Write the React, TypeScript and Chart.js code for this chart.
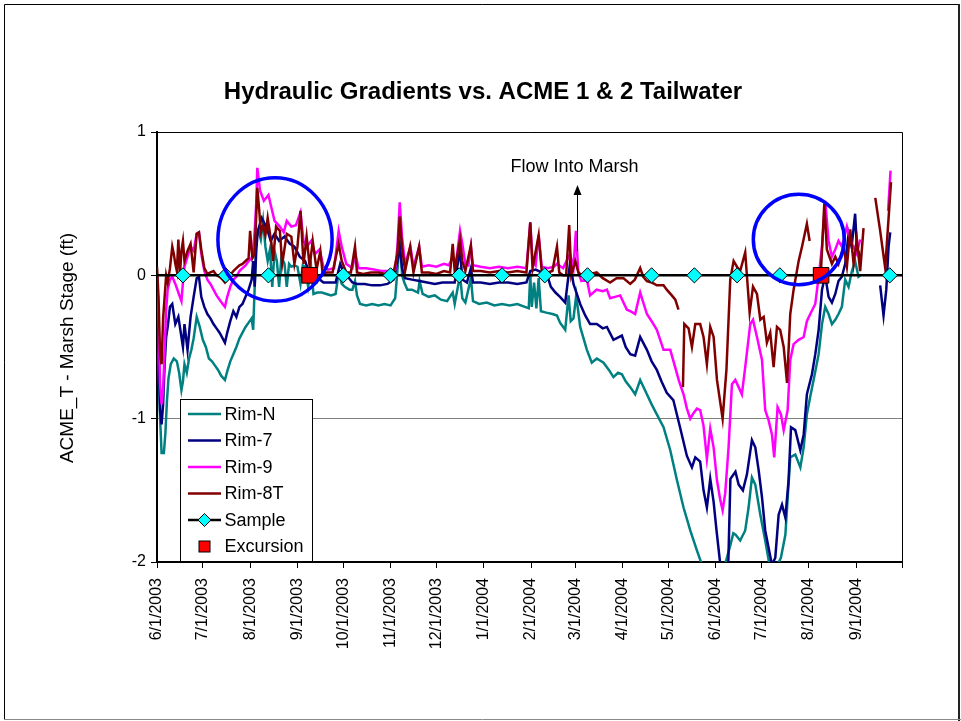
import React, { useEffect, useRef } from 'react';
import { Chart, registerables } from 'chart.js';

Chart.register(...registerables);

const FONT = '"Liberation Sans", Arial, sans-serif';

// x axis: days since 6/1/2003
const monthDays = [0, 30, 61, 92, 122, 153, 183, 214, 245, 274, 305, 335, 366, 396, 427, 458, 488];
const monthLabels = ['6/1/2003', '7/1/2003', '8/1/2003', '9/1/2003', '10/1/2003', '11/1/2003', '12/1/2003', '1/1/2004', '2/1/2004', '3/1/2004', '4/1/2004', '5/1/2004', '6/1/2004', '7/1/2004', '8/1/2004', '9/1/2004', ''];
const yTickValues = [1, 0, -1, -2];

type Pair = [number, number | null];

const rimN: Pair[] = [[0,-0.34],[1,-0.64],[2,-0.99],[3,-1.24],[4.5,-1.24],[5.5,-1.1],[6.5,-0.88],[7.5,-0.72],[9,-0.62],[11,-0.58],[13,-0.6],[14.5,-0.68],[16,-0.8],[17,-0.74],[18,-0.62],[19.5,-0.68],[21,-0.58],[22.5,-0.52],[24,-0.44],[26,-0.29],[28,-0.36],[30,-0.45],[32,-0.5],[34,-0.58],[36,-0.6],[38,-0.63],[40,-0.66],[42,-0.7],[44.5,-0.73],[46,-0.67],[48,-0.6],[50,-0.55],[52,-0.5],[54,-0.44],[56,-0.4],[58,-0.36],[60,-0.33],[62,-0.3],[63,-0.38],[64,-0.08],[65,0.27],[66.5,0.31],[68,0.25],[69.5,0.38],[71,0.2],[72.5,0.1],[74,0.18],[75.5,-0.08],[77,0.17],[78.5,0.1],[80,-0.08],[81.5,0.13],[83.5,0.08],[85,-0.08],[86.5,0.08],[88,0.06],[90,0.07],[92,0.06],[94,-0.06],[95.5,0.07],[97,0.06],[99,-0.08],[101,0.05],[102.5,-0.13],[105,-0.12],[108,-0.12],[111,-0.13],[114,-0.14],[117,-0.13],[119,0.02],[121,-0.06],[123,-0.08],[126,-0.1],[128,-0.1],[129.7,-0.04],[131,-0.14],[133,-0.2],[137,-0.21],[141,-0.2],[145,-0.21],[149,-0.2],[153,-0.21],[156,-0.16],[158,0.1],[159.3,0.31],[160.5,0.0],[162,-0.05],[164,-0.1],[167,-0.1],[171,-0.12],[172,-0.04],[174,-0.13],[178,-0.15],[182,-0.14],[186,-0.17],[190,-0.18],[193.7,-0.12],[195,-0.2],[198.5,0.0],[200,-0.16],[202,-0.19],[205.6,-0.02],[207,-0.18],[211,-0.2],[216,-0.19],[221,-0.21],[226,-0.2],[231,-0.21],[236,-0.2],[241,-0.22],[243.5,-0.23],[244.5,0.0],[245.5,-0.22],[247,-0.05],[248.5,-0.23],[250,-0.02],[251.5,-0.25],[255,-0.26],[259,-0.27],[262,-0.28],[264,-0.33],[267.4,-0.38],[269.6,-0.14],[271,-0.32],[272.8,-0.3],[274.6,-0.14],[277.2,-0.36],[281.6,-0.52],[284.8,-0.61],[288.1,-0.58],[292.5,-0.61],[296,-0.66],[299,-0.71],[302,-0.68],[304.5,-0.69],[307,-0.74],[310,-0.78],[313.2,-0.83],[316.5,-0.73],[320.9,-0.83],[324,-0.9],[327.4,-0.97],[331.8,-1.06],[336.2,-1.22],[340.6,-1.43],[344.9,-1.62],[349.3,-1.78],[353.7,-1.92],[357,-2.02],[362,-2.1],[370,-2.1],[375.6,-1.88],[377.5,-1.8],[379,-1.81],[382,-1.85],[385.3,-1.78],[387.5,-1.62],[389.7,-1.41],[391.9,-1.46],[395.2,-1.67],[398.4,-1.85],[401.7,-2.05],[405,-2.05],[408.7,-1.97],[411.6,-1.81],[414.8,-1.27],[418.1,-1.25],[421.4,-1.34],[423.6,-1.2],[425.7,-0.97],[428,-0.84],[430.1,-0.73],[433.4,-0.55],[435.6,-0.34],[437.7,-0.22],[439.9,-0.27],[442.1,-0.34],[444.3,-0.31],[446.4,-0.27],[448.6,-0.22],[450.8,-0.03],[453,-0.08],[455.2,0.03],[457.3,0.1],[459.5,-0.01],[460.6,0.0]];

const rim7: Pair[] = [[0,-0.14],[1,-0.43],[2,-0.94],[3,-1.04],[4,-0.9],[5,-0.62],[6,-0.43],[7,-0.36],[8.5,-0.22],[10,-0.2],[12,-0.34],[14,-0.29],[16,-0.43],[17,-0.5],[18,-0.34],[20,-0.52],[22,-0.29],[24,-0.15],[26,-0.02],[27.5,-0.01],[29,-0.15],[31,-0.22],[33,-0.27],[35,-0.3],[37,-0.34],[39,-0.37],[41,-0.4],[43,-0.44],[44.5,-0.47],[46,-0.4],[48,-0.32],[50,-0.25],[52,-0.29],[54,-0.22],[56,-0.2],[58,-0.15],[60,-0.1],[62,-0.03],[63,0.1],[64,-0.08],[65,0.17],[66,0.31],[68.6,0.4],[70.5,0.36],[72.5,0.31],[74.5,0.24],[77,0.29],[80,0.24],[83.5,0.27],[87,0.22],[90,0.2],[93.5,0.13],[97,0.1],[100,0.01],[104.5,-0.01],[109,-0.05],[113,-0.05],[117,-0.05],[120,0.08],[122,0.03],[125,-0.01],[128,-0.05],[131,-0.06],[136,-0.06],[141,-0.07],[146,-0.07],[151,-0.06],[155,-0.03],[157.5,0.1],[159,0.2],[160.5,0.05],[162.5,-0.02],[167,-0.03],[172,-0.04],[177,-0.05],[182,-0.06],[187,-0.05],[192,-0.05],[195,-0.05],[198.5,0.18],[200,-0.03],[203,-0.05],[205.6,0.05],[207,-0.05],[212,-0.05],[218,-0.06],[224,-0.05],[230,-0.05],[236,-0.06],[242,-0.05],[244.5,0.03],[248,0.04],[252,0.02],[255.6,0.0],[258,-0.08],[261,-0.12],[264,-0.15],[267.4,-0.19],[270.6,0.09],[272.8,-0.06],[275,-0.13],[277.2,-0.2],[280.5,-0.28],[283.7,-0.34],[288.1,-0.34],[292,-0.37],[294.7,-0.36],[299,-0.45],[304.5,-0.42],[307,-0.5],[310,-0.55],[313.2,-0.56],[316.5,-0.43],[320.9,-0.52],[324,-0.6],[327.4,-0.66],[330.5,-0.74],[333.9,-0.82],[338.2,-0.87],[342.6,-1.06],[347.1,-1.26],[350.4,-1.34],[352.6,-1.27],[355.8,-1.3],[358,-1.5],[360.2,-1.62],[362.4,-1.42],[364.6,-1.58],[366.5,-1.78],[369,-2.02],[371,-2.1],[374,-2.1],[375.6,-1.42],[378.9,-1.37],[381,-1.46],[383.8,-1.5],[386.4,-1.39],[389.7,-1.15],[391.9,-1.2],[394.1,-1.36],[396.3,-1.55],[398.4,-1.78],[400.6,-1.9],[402.8,-2.02],[405,-1.97],[407.2,-1.67],[409.4,-1.6],[411.6,-1.69],[413.7,-1.43],[415.3,-1.06],[418.1,-1.08],[421.4,-1.22],[423.6,-1.11],[425.7,-0.83],[429,-0.69],[431.2,-0.55],[433.4,-0.38],[435.6,-0.1],[437.7,0.0],[439.9,-0.15],[442.1,-0.19],[444.3,-0.13],[446.4,-0.04],[448.6,-0.01],[450.8,0.08],[453,0.29],[455,0.2],[457.3,0.43],[458.4,0.2],[460.6,0.13],[462,null],[473.7,-0.07],[475.9,-0.28],[477.7,-0.1],[479.2,0.2],[480.3,0.3]];

const rim9: Pair[] = [[0,0.01],[1,-0.29],[2,-0.76],[3,-0.9],[4,-0.8],[5,-0.52],[6,-0.24],[7,-0.1],[8.5,-0.03],[10,-0.01],[12,-0.06],[14,-0.12],[16,-0.18],[17,-0.05],[18,0.06],[20,0.13],[22,0.2],[24,0.17],[26,0.29],[27.5,0.3],[29,0.15],[31,0.03],[33,-0.03],[35,-0.06],[37,-0.1],[39,-0.14],[41,-0.17],[43,-0.2],[44.5,-0.22],[46,-0.15],[48,-0.08],[50,-0.03],[52,-0.01],[54,0.03],[56,0.05],[58,0.07],[60,0.1],[62,0.12],[63,0.17],[64,0.31],[65,0.5],[65.7,0.75],[67.5,0.59],[70,0.52],[73,0.56],[75,0.47],[77,0.38],[80.5,0.34],[83,0.3],[85,0.38],[88,0.34],[91,0.35],[94,0.44],[96,0.24],[98,0.2],[101,0.24],[103.5,0.15],[106.5,0.18],[109,0.06],[112,0.04],[116,0.05],[119,0.31],[121,0.2],[124,0.08],[128,0.05],[130,0.15],[132,0.05],[137,0.05],[142,0.04],[147,0.03],[152,0.03],[156,0.04],[157.5,0.2],[159,0.51],[160.5,0.27],[162.5,0.08],[166,0.2],[168,0.06],[171.7,0.2],[173.5,0.06],[178,0.07],[183,0.06],[188,0.08],[191,0.07],[193.7,0.12],[196,0.1],[198.5,0.31],[200,0.22],[202,0.08],[204,0.07],[205.6,0.2],[207,0.07],[212,0.06],[218,0.05],[224,0.06],[230,0.05],[236,0.06],[242,0.05],[244.5,0.37],[246,0.1],[248,0.07],[250,0.28],[252,0.06],[256,0.05],[260,0.06],[262,0.08],[266,0.05],[270.6,0.15],[272.8,0.05],[274.4,0.31],[276,0.02],[278,-0.04],[281.6,-0.03],[283.7,-0.14],[288,-0.1],[292,-0.11],[294.7,-0.1],[296.8,-0.16],[300,-0.15],[303.4,-0.14],[307.8,-0.24],[310,-0.25],[313.2,-0.27],[316.5,-0.12],[320.9,-0.27],[324,-0.32],[327.4,-0.38],[331.8,-0.52],[336.2,-0.52],[339.4,-0.64],[342,-0.74],[344.9,-0.83],[347.1,-0.93],[349.3,-1.0],[351.5,-0.96],[353.7,-0.93],[355.8,-0.94],[358,-1.05],[360.2,-1.28],[362.4,-1.07],[364.6,-1.2],[366.8,-1.43],[369,-1.57],[370.5,-1.64],[372.2,-1.52],[374.4,-1.2],[376.6,-0.76],[378.8,-0.73],[381,-0.78],[383.1,-0.83],[385.3,-0.64],[388.6,-0.34],[390.4,-0.31],[393,-0.43],[396.3,-0.59],[398.4,-0.94],[400.6,-1.01],[402.8,-1.11],[404.3,-1.27],[406.5,-0.92],[408.7,-0.97],[410.5,-1.08],[413.1,-0.94],[414.8,-0.59],[417,-0.48],[420.3,-0.45],[423.6,-0.43],[425.7,-0.32],[427.9,-0.27],[431.2,-0.2],[433.4,-0.01],[435.6,0.2],[437.7,0.52],[439.9,0.24],[442.1,0.13],[444.3,0.18],[446.4,0.24],[448.6,0.2],[451.9,0.34],[454.1,0.24],[456.3,0.2],[458.4,0.15],[460.6,0.25],[462,null],[478.9,0.45],[480.5,0.73]];

const rim8T: Pair[] = [[0,0.06],[1,-0.15],[2,-0.55],[3,-0.62],[4,-0.3],[5,-0.15],[6,0.0],[7,-0.05],[8.5,0.05],[10,0.2],[11,0.15],[12,0.08],[13,0.03],[14,0.25],[15,0.0],[16,0.17],[17,0.24],[18,0.1],[20,0.17],[22,0.22],[24,0.02],[26,0.29],[27.5,0.3],[29,0.18],[31,0.05],[33,0.01],[35,0.02],[37,0.03],[39,0.0],[41,-0.01],[43,-0.03],[44.5,-0.05],[46,-0.03],[48,0.0],[50,0.03],[52,0.05],[54,0.07],[56,0.08],[58,0.1],[60,0.12],[61,0.31],[62.5,0.12],[64,0.15],[65.7,0.61],[67,0.45],[68,0.3],[69.5,0.35],[71,0.28],[72.5,0.4],[75,0.22],[76,0.1],[78,0.34],[80.5,0.31],[82,0.08],[85,0.29],[88,0.27],[90,0.08],[92,0.2],[94,0.45],[96,0.08],[98,0.27],[100,0.06],[102,0.24],[104.5,0.04],[107,0.17],[108.5,0.01],[111,0.02],[115,0.02],[119,0.22],[121,0.1],[124,0.02],[127,0.02],[129.7,0.2],[131,0.02],[135,0.01],[140,0.02],[145,0.02],[150,0.01],[155,0.02],[157.5,0.15],[159,0.41],[160.5,0.2],[162.5,0.03],[165.8,0.2],[168,0.02],[171.7,0.2],[173.5,0.02],[178,0.02],[183,0.01],[188,0.03],[192,0.02],[193.7,0.22],[195,0.03],[198.5,0.25],[200,0.1],[202,0.03],[205.6,0.21],[207,0.03],[212,0.03],[218,0.02],[224,0.03],[230,0.02],[236,0.03],[242,0.02],[244.5,0.37],[246,0.05],[250,0.28],[252,0.03],[256,0.02],[259,0.03],[262,0.2],[263.5,0.02],[266,0.0],[268,0.0],[270,0.35],[271.4,0.0],[274,0.1],[276,0.02],[280,-0.01],[284,0.01],[288,0.02],[292,-0.02],[296.8,-0.05],[301,-0.02],[305.6,-0.02],[310,-0.06],[313,-0.03],[316.5,0.05],[318.5,-0.01],[320.9,-0.04],[324,-0.05],[327.4,-0.07],[331.8,-0.07],[333.9,-0.1],[337.2,-0.14],[339.5,-0.17],[341.6,-0.24],[343,null],[344.5,-0.78],[345.4,-0.34],[348.2,-0.37],[350.4,-0.5],[352.6,-0.34],[355.8,-0.34],[358,-0.43],[360.2,-0.62],[362.4,-0.36],[364.6,-0.43],[366.8,-0.73],[370.5,-1.0],[373,-0.66],[375.5,-0.03],[377.7,0.1],[379.9,0.06],[382,0.03],[385.3,0.16],[388.2,-0.26],[390.4,-0.08],[393,-0.13],[395.2,-0.31],[397.4,-0.29],[399.5,-0.47],[401.7,-0.4],[403.9,-0.64],[406.1,-0.36],[408.2,-0.38],[410.5,-0.5],[412.7,-0.75],[414.8,-0.27],[417,-0.1],[420.3,0.1],[422.5,0.2],[425.7,0.36],[427.5,0.24],[430,null],[435,0.05],[437.1,0.5],[438.8,0.18],[442.1,0.08],[444.3,0.13],[446.4,0.08],[449.7,0.2],[451.9,0.06],[454.1,0.32],[456.3,0.08],[458.4,0.25],[460.6,0.03],[462.8,0.33],[464,null],[470.5,0.54],[473.7,0.31],[477,0.05],[480.8,0.65]];

const sampleDays = [17, 45, 73, 122, 153, 198, 226, 254, 282, 324, 352, 380, 408, 480];
const sampleLineEnds = [0, 488];
const excursionDays = [100, 435];

const chartTitle = 'Hydraulic Gradients vs. ACME 1 & 2 Tailwater';
const yAxisTitle = 'ACME_T - Marsh Stage (ft)';
const arrowText = 'Flow Into Marsh';
const arrowDay = 275;
const arrowFrom = 0.17;
const arrowTo = 0.63;
// highlight circles: centre (day, value) and half extents (days, value units)
const circles = [
  { day: 77.3, value: 0.25, halfDays: 37.4, halfValue: 0.43 },
  { day: 420.4, value: 0.25, halfDays: 29.8, halfValue: 0.315 },
];

const series = [
  { label: 'Rim-N', color: '#008080', data: rimN },
  { label: 'Rim-7', color: '#000080', data: rim7 },
  { label: 'Rim-9', color: '#FF00FF', data: rim9 },
  { label: 'Rim-8T', color: '#800000', data: rim8T },
];

const toPoints = (pairs: Pair[]) => pairs.map(([x, y]) => ({ x, y }));

const overlayPlugin = {
  id: 'overlay',
  beforeDraw(chart: any) {
    const { ctx, width, height } = chart;
    ctx.save();
    ctx.fillStyle = '#ffffff';
    ctx.fillRect(0, 0, width, height);
    // outer frame
    ctx.strokeStyle = '#000';
    ctx.lineWidth = 1;
    ctx.beginPath();
    ctx.moveTo(4.5, 720);
    ctx.lineTo(4.5, 4.5);
    ctx.lineTo(960, 4.5);
    ctx.stroke();
    ctx.strokeStyle = '#222';
    ctx.lineWidth = 2;
    ctx.beginPath();
    ctx.moveTo(959, 4);
    ctx.lineTo(959, 721);
    ctx.stroke();
    ctx.strokeStyle = '#888';
    ctx.lineWidth = 1;
    ctx.beginPath();
    ctx.moveTo(4, 719.5);
    ctx.lineTo(961, 719.5);
    ctx.stroke();
    // title
    ctx.fillStyle = '#000';
    ctx.font = `bold 24px ${FONT}`;
    ctx.textAlign = 'center';
    ctx.textBaseline = 'middle';
    ctx.fillText(chartTitle, 483, 92);
    // y axis title
    ctx.save();
    ctx.translate(68, 348);
    ctx.rotate(-Math.PI / 2);
    ctx.font = `19px ${FONT}`;
    ctx.fillText(yAxisTitle, 0, 0);
    ctx.restore();
    ctx.restore();
  },
  afterDatasetsDraw(chart: any) {
    const { ctx, chartArea: a, scales } = chart;
    const xs = scales.x;
    const ys = scales.y;
    ctx.save();
    // plot frame top/right
    ctx.strokeStyle = '#000';
    ctx.lineWidth = 1;
    ctx.beginPath();
    ctx.moveTo(a.left, a.top + 0.5);
    ctx.lineTo(a.right + 0.5, a.top + 0.5);
    ctx.lineTo(a.right + 0.5, a.bottom);
    ctx.stroke();

    // circles
    ctx.strokeStyle = '#0000FF';
    ctx.lineWidth = 3.5;
    circles.forEach((c) => {
      const cx = xs.getPixelForValue(c.day);
      const cy = ys.getPixelForValue(c.value);
      const rx = Math.abs(xs.getPixelForValue(c.day + c.halfDays) - cx);
      const ry = Math.abs(ys.getPixelForValue(c.value + c.halfValue) - cy);
      ctx.beginPath();
      ctx.ellipse(cx, cy, rx, ry, 0, 0, Math.PI * 2);
      ctx.stroke();
    });

    // arrow
    const ax = Math.round(xs.getPixelForValue(arrowDay)) + 0.5;
    const ay0 = ys.getPixelForValue(arrowFrom);
    const ay1 = ys.getPixelForValue(arrowTo);
    ctx.strokeStyle = '#000';
    ctx.fillStyle = '#000';
    ctx.lineWidth = 1;
    ctx.beginPath();
    ctx.moveTo(ax, ay0);
    ctx.lineTo(ax, ay1 + 8);
    ctx.stroke();
    ctx.beginPath();
    ctx.moveTo(ax, ay1);
    ctx.lineTo(ax - 4, ay1 + 10);
    ctx.lineTo(ax + 4, ay1 + 10);
    ctx.closePath();
    ctx.fill();
    ctx.font = `18px ${FONT}`;
    ctx.textAlign = 'center';
    ctx.textBaseline = 'middle';
    ctx.fillText(arrowText, ax - 3, ay1 - 18);

    // legend
    const lx = a.left + 23;
    const lw = 132;
    const lh = 163;
    const ly = a.bottom - lh;
    ctx.fillStyle = '#fff';
    ctx.fillRect(lx, ly, lw, lh);
    ctx.strokeStyle = '#000';
    ctx.lineWidth = 1;
    ctx.strokeRect(lx + 0.5, ly + 0.5, lw, lh - 1);
    const rowH = 26.5;
    const items = [
      ...series.map((s) => ({ label: s.label, kind: 'line', color: s.color })),
      { label: 'Sample', kind: 'sample', color: '#000' },
      { label: 'Excursion', kind: 'square', color: '#FF0000' },
    ];
    ctx.font = `18px ${FONT}`;
    ctx.textAlign = 'left';
    ctx.textBaseline = 'middle';
    items.forEach((it, i) => {
      const cy = ly + 15 + i * rowH;
      const x0 = lx + 8;
      const x1 = lx + 41;
      const mx = (x0 + x1) / 2;
      if (it.kind === 'line' || it.kind === 'sample') {
        ctx.strokeStyle = it.color;
        ctx.lineWidth = 2.5;
        ctx.beginPath();
        ctx.moveTo(x0, cy);
        ctx.lineTo(x1, cy);
        ctx.stroke();
      }
      if (it.kind === 'sample') {
        ctx.fillStyle = '#00FFFF';
        ctx.strokeStyle = '#000';
        ctx.lineWidth = 1;
        const r = 6.5;
        ctx.beginPath();
        ctx.moveTo(mx - r, cy);
        ctx.lineTo(mx, cy - r);
        ctx.lineTo(mx + r, cy);
        ctx.lineTo(mx, cy + r);
        ctx.closePath();
        ctx.fill();
        ctx.stroke();
      }
      if (it.kind === 'square') {
        ctx.fillStyle = '#FF0000';
        ctx.strokeStyle = '#000';
        ctx.lineWidth = 1;
        ctx.fillRect(mx - 5.5, cy - 5.5, 11, 11);
        ctx.strokeRect(mx - 5.5, cy - 5.5, 11, 11);
      }
      ctx.fillStyle = '#000';
      ctx.fillText(it.label, lx + 44.5, cy + 1);
    });
    ctx.restore();
  },
};

export default function App() {
  const canvasRef = useRef<HTMLCanvasElement | null>(null);

  useEffect(() => {
    document.body.style.margin = '0';
    const canvas = canvasRef.current;
    if (!canvas) return;

    const samplePoints = [
      { x: sampleLineEnds[0], y: 0 },
      ...sampleDays.map((d) => ({ x: d, y: 0 })),
      { x: sampleLineEnds[1], y: 0 },
    ];
    const lastSample = samplePoints.length - 1;

    const datasets: any[] = series.map((s, i) => ({
      label: s.label,
      data: toPoints(s.data),
      borderColor: s.color,
      backgroundColor: s.color,
      borderWidth: 2.5,
      pointRadius: 0,
      pointHoverRadius: 0,
      tension: 0,
      spanGaps: false,
      order: 5 - i,
    }));
    datasets.push({
      label: 'Sample',
      data: samplePoints,
      borderColor: '#000',
      borderWidth: 2.5,
      pointStyle: 'rectRot',
      pointRadius: (ctx: any) => (ctx.dataIndex === 0 || ctx.dataIndex === lastSample ? 0 : 7.6),
      pointBackgroundColor: '#00FFFF',
      pointBorderColor: '#000',
      pointBorderWidth: 1,
      order: 1,
    });
    datasets.push({
      label: 'Excursion',
      data: excursionDays.map((d) => ({ x: d, y: 0 })),
      showLine: false,
      pointStyle: 'rect',
      pointRadius: 11,
      pointBackgroundColor: '#FF0000',
      pointBorderColor: '#000',
      pointBorderWidth: 1,
      order: 0,
    });

    const chart = new Chart(canvas, {
      type: 'line',
      data: { datasets },
      options: {
        responsive: false,
        devicePixelRatio: 1,
        animation: false,
        events: [],
        layout: { padding: { left: 107, right: 59, top: 132, bottom: 59 } },
        plugins: {
          legend: { display: false },
          title: { display: false },
          tooltip: { enabled: false },
        },
        scales: {
          x: {
            type: 'linear',
            min: monthDays[0],
            max: monthDays[monthDays.length - 1],
            afterBuildTicks: (scale: any) => {
              scale.ticks = monthDays.map((v) => ({ value: v }));
            },
            afterFit: (scale: any) => {
              scale.height = 100;
            },
            ticks: {
              autoSkip: false,
              maxRotation: 90,
              minRotation: 90,
              padding: 10,
              color: '#000',
              font: { family: FONT, size: 16 },
              callback: (_v: any, i: number) => monthLabels[i],
            },
            grid: {
              drawOnChartArea: false,
              drawTicks: true,
              tickLength: 6,
              color: '#000',
              tickColor: '#000',
              lineWidth: 1,
            },
            border: { display: true, color: '#000', width: 2 },
          },
          y: {
            type: 'linear',
            min: -2,
            max: 1,
            afterBuildTicks: (scale: any) => {
              scale.ticks = yTickValues.map((v) => ({ value: v }));
            },
            afterFit: (scale: any) => {
              scale.width = 50;
            },
            ticks: {
              padding: 5,
              color: '#000',
              font: { family: FONT, size: 16 },
              callback: (v: any) => String(v),
            },
            grid: {
              color: '#808080',
              tickColor: '#000',
              drawTicks: true,
              tickLength: 6,
              lineWidth: 1,
            },
            border: { display: true, color: '#000', width: 2 },
          },
        },
      },
      plugins: [overlayPlugin],
    });

    return () => chart.destroy();
  }, []);

  return (
    <canvas
      ref={canvasRef}
      width={961}
      height={721}
      style={{ display: 'block', width: 961, height: 721 }}
    />
  );
}
